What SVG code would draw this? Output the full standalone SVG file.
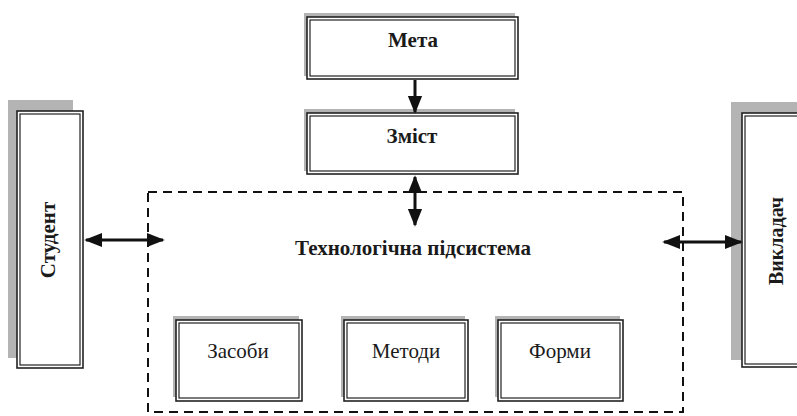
<svg xmlns="http://www.w3.org/2000/svg" width="797" height="416" viewBox="0 0 797 416">
<defs>
<style>
.shadow{fill:#b4b4b4}
.outer{fill:#fff;stroke:#222;stroke-width:1.6}
.inner{fill:none;stroke:#222;stroke-width:1.2}
.lbl{font-family:'Liberation Serif','DejaVu Serif',serif;fill:#1a1a1a;text-anchor:middle}
.b{font-weight:bold}
.conn{stroke:#111;stroke-width:3;fill:none}
.dash{stroke:#111;stroke-width:2;fill:none;stroke-dasharray:9 6}
</style>
<marker id="ah" viewBox="0 0 10 10" refX="9" refY="5" markerWidth="6" markerHeight="6" orient="auto-start-reverse" markerUnits="strokeWidth">
<path d="M0,1 L10,5 L0,9 z" fill="#111"/>
</marker>
</defs>
<rect width="797" height="416" fill="#fff"/>

<g id="tech">
<rect class="dash" x="148" y="192" width="535" height="220"/>
<text class="lbl b" x="413" y="255" font-size="21">Технологічна підсистема</text>
</g>

<g id="meta">
<rect class="shadow" x="304" y="13" width="211" height="63"/>
<rect class="outer" x="307" y="17" width="211" height="62"/>
<rect class="inner" x="310" y="20" width="205" height="56"/>
<text class="lbl b" x="413" y="47" font-size="21">Мета</text>
</g>

<g id="zmist">
<rect class="shadow" x="304" y="109" width="211" height="62"/>
<rect class="outer" x="307" y="113" width="211" height="61"/>
<rect class="inner" x="310" y="116" width="205" height="55"/>
<text class="lbl b" x="412" y="143" font-size="21">Зміст</text>
</g>

<g id="student">
<rect class="shadow" x="8" y="100" width="65" height="258"/>
<rect class="outer" x="17" y="111" width="66" height="257"/>
<rect class="inner" x="20" y="114" width="60" height="251"/>
<text class="lbl b" transform="translate(55,240) rotate(-90)" font-size="21">Студент</text>
</g>

<g id="vykladach">
<rect class="shadow" x="731" y="102" width="70" height="258"/>
<rect class="outer" x="742" y="113" width="62" height="254"/>
<rect class="inner" x="745" y="116" width="60" height="248"/>
<text class="lbl b" transform="translate(783,241) rotate(-90)" font-size="20">Викладач</text>
</g>

<g id="zasoby">
<rect class="shadow" x="173" y="316" width="126" height="81"/>
<rect class="outer" x="176" y="320" width="126" height="81"/>
<rect class="inner" x="179" y="323" width="120" height="75"/>
<text class="lbl" x="238" y="358" font-size="21">Засоби</text>
</g>

<g id="metody">
<rect class="shadow" x="341" y="316" width="124" height="81"/>
<rect class="outer" x="344" y="320" width="124" height="81"/>
<rect class="inner" x="347" y="323" width="118" height="75"/>
<text class="lbl" x="406" y="358" font-size="21">Методи</text>
</g>

<g id="formy">
<rect class="shadow" x="495" y="316" width="125" height="81"/>
<rect class="outer" x="498" y="320" width="125" height="81"/>
<rect class="inner" x="501" y="323" width="119" height="75"/>
<text class="lbl" x="560" y="358" font-size="21">Форми</text>
</g>

<g id="connectors">
<line class="conn" x1="415" y1="80" x2="415" y2="112" marker-end="url(#ah)"/>
<line class="conn" x1="415" y1="177" x2="415" y2="225" marker-start="url(#ah)" marker-end="url(#ah)"/>
<line class="conn" x1="86" y1="240" x2="163" y2="240" marker-start="url(#ah)" marker-end="url(#ah)"/>
<line class="conn" x1="664" y1="242" x2="741" y2="242" marker-start="url(#ah)" marker-end="url(#ah)"/>
</g>
</svg>
